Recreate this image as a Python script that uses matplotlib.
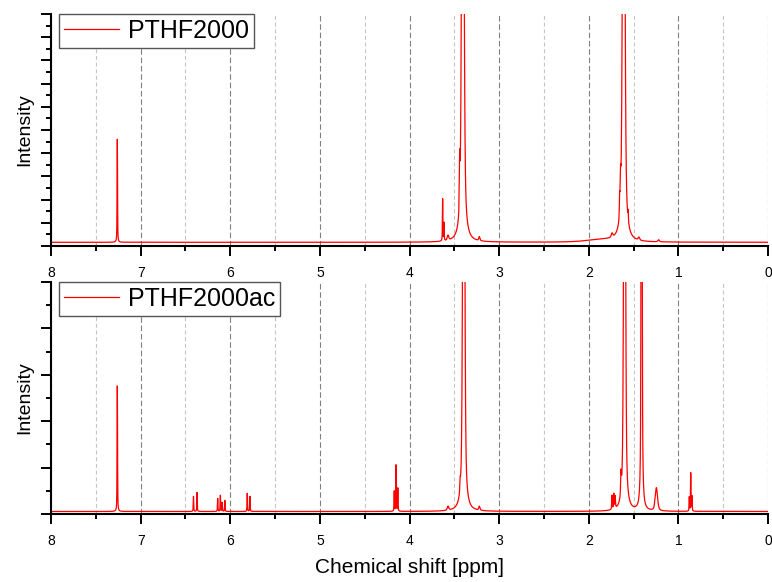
import numpy as np
import matplotlib.pyplot as plt
from matplotlib.ticker import MultipleLocator

plt.rcParams['font.family'] = ['Liberation Sans', 'DejaVu Sans']

# peak tables: position [ppm], height, half width [ppm]
top_label = 'PTHF2000'
top_pos = [7.26, 3.63, 3.615, 3.57, 3.405, 3.44, 3.22,
           1.85, 1.74, 1.655, 1.645, 1.61, 1.56, 1.44, 1.22]
top_height = [103, 42, 18, 5, 700, 48, 4,
              2.5, 4, 20, 30, 700, 10, 3, 2]
top_width = [0.003, 0.003, 0.003, 0.01, 0.013, 0.004, 0.008,
             0.2, 0.01, 0.004, 0.004, 0.013, 0.003, 0.01, 0.01]
top_base = 3.7

bot_label = 'PTHF2000ac'
bot_pos = [7.26, 6.41, 6.37, 6.14, 6.11, 6.09, 6.06, 5.81, 5.78,
           4.17, 4.15, 4.13, 3.57, 3.395, 3.435, 3.22,
           1.74, 1.72, 1.705, 1.64, 1.60, 1.41, 1.245,
           0.878, 0.862, 0.848]
bot_height = [125, 15, 19, 13, 16, 9, 11, 18, 15,
              20, 46, 23, 4, 700, 10, 4,
              14, 15, 12, 21, 700, 1000, 23,
              14, 38, 15]
bot_width = [0.003, 0.003, 0.003, 0.003, 0.003, 0.003, 0.003, 0.003, 0.003,
             0.003, 0.003, 0.003, 0.01, 0.011, 0.004, 0.008,
             0.004, 0.004, 0.004, 0.005, 0.010, 0.005, 0.015,
             0.003, 0.003, 0.003]
bot_base = 2.5


def spectrum(ppm, pos, height, width, base):
    y = np.full_like(ppm, base)
    for p, h, w in zip(pos, height, width):
        d = (ppm - p) / w
        y += h * (0.5 / (1 + d**2) + 0.5 * np.exp(-np.log(2) * d**2))
    return y


ppm = np.linspace(0, 8, 20001)

fig = plt.figure(figsize=(7.72, 5.82), dpi=100)
ax1 = fig.add_axes([51/772, 1 - 246/582, 717/772, 232/582])
ax2 = fig.add_axes([51/772, 1 - 514/582, 717/772, 232/582])

panels = [(ax1, top_label, top_pos, top_height, top_width, top_base, 232, 23.2),
          (ax2, bot_label, bot_pos, bot_height, bot_width, bot_base, 231, 46.2)]

for ax, label, pos, height, width, base, ytop, ystep in panels:
    ax.plot(ppm, spectrum(ppm, pos, height, width, base), color='#ff0000', lw=0.9, label=label)
    ax.set_xlim(8, 0)
    ax.set_ylim(0, ytop)
    ax.xaxis.set_major_locator(MultipleLocator(1))
    ax.xaxis.set_minor_locator(MultipleLocator(0.5))
    ax.yaxis.set_major_locator(MultipleLocator(ystep))
    ax.yaxis.set_minor_locator(MultipleLocator(ystep / 2))
    ax.tick_params(which='major', direction='out', length=7.2, width=1.4, labelsize=10, pad=7)
    ax.tick_params(which='minor', direction='out', length=3.6, width=1.4)
    ax.tick_params(axis='y', which='both', labelleft=False)
    for s in ['top', 'right']:
        ax.spines[s].set_visible(False)
    for s in ['left', 'bottom']:
        ax.spines[s].set_linewidth(1.5)
    ax.grid(True, axis='x', which='major', color='#808080', ls=(0, (5, 2.5)), lw=0.8)
    ax.grid(True, axis='x', which='minor', color='#c4c4c4', ls=(0, (3.5, 2.5)), lw=0.8)
    ax.set_axisbelow(True)
    ax.set_ylabel('Intensity', fontsize=14)
    ax.yaxis.set_label_coords(-0.025, 0.5)
    leg = ax.legend(loc='upper left', bbox_to_anchor=(8/717, 1.0), borderaxespad=0,
                    fontsize=18, handlelength=2.2, handletextpad=0.35, borderpad=0.2,
                    fancybox=False, framealpha=1)
    leg.get_frame().set_edgecolor('#555555')
    leg.get_frame().set_linewidth(1.0)

ax2.set_xlabel('Chemical shift [ppm]', fontsize=15)
ax2.xaxis.set_label_coords(0.5, -0.19)

fig.savefig('out.png', dpi=100)
